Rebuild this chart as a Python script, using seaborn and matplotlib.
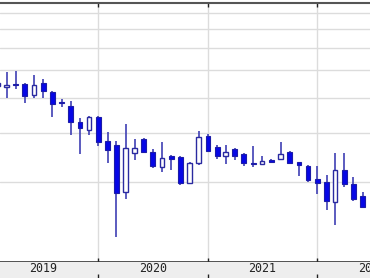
import matplotlib
matplotlib.use("Agg")
import matplotlib.pyplot as plt
import matplotlib.ticker as mticker
import numpy as np
import pandas as pd
import seaborn as sns

# ---- data (monthly candles, Feb 2019 - Jun 2022) ----
months = pd.date_range("2019-02-01", periods=41, freq="MS")
opens = [4.38, 4.37, 4.48, 4.47, 4.07, 4.52, 4.20, 3.85, 3.74, 3.28, 3.07, 3.40,
         2.81, 2.71, 1.85, 2.55, 2.85, 2.57, 2.26, 2.47, 2.45, 1.99, 2.34,
         2.93, 2.66, 2.48, 2.62, 2.51, 2.35, 2.32, 2.40, 2.41, 2.56, 2.36, 2.29,
         2.05, 2.01, 1.70, 2.22, 1.98, 1.79]
closes = [4.49, 4.44, 4.44, 4.06, 4.43, 4.22, 3.78, 3.83, 3.27, 3.11, 3.40, 2.79,
          2.60, 1.83, 2.64, 2.64, 2.57, 2.29, 2.43, 2.42, 1.99, 2.34, 2.90,
          2.59, 2.47, 2.57, 2.47, 2.34, 2.32, 2.38, 2.37, 2.51, 2.35, 2.30, 2.04,
          1.99, 1.72, 2.22, 1.98, 1.74, 1.64]
highs = [4.69, 4.94, 4.97, 4.49, 4.81, 4.65, 4.22, 3.95, 3.90, 3.38, 3.45, 3.45,
         3.02, 2.80, 3.21, 2.85, 2.88, 2.63, 2.79, 2.49, 2.47, 2.37, 3.04,
         2.97, 2.71, 2.71, 2.64, 2.54, 2.68, 2.47, 2.41, 2.77, 2.58, 2.36, 2.30,
         2.29, 2.12, 2.55, 2.55, 2.09, 1.85]
lows = [4.18, 3.97, 4.29, 3.82, 3.99, 3.99, 3.42, 3.71, 2.94, 2.52, 2.94, 2.68,
        2.34, 1.28, 1.74, 2.39, 2.55, 2.25, 2.18, 2.21, 1.95, 1.98, 2.30,
        2.57, 2.41, 2.32, 2.40, 2.29, 2.26, 2.30, 2.34, 2.40, 2.34, 2.11, 2.00,
        1.82, 1.59, 1.41, 1.93, 1.72, 1.64]
years = ["2019", "2020", "2021", "2022"]
year_starts = ["2019-01-01", "2020-01-01", "2021-01-01", "2022-01-01"]
grid_values = [2, 3, 4, 5, 6, 7, 8]

df = pd.DataFrame({"date": months, "open": opens, "high": highs,
                   "low": lows, "close": closes})
df["bottom"] = df[["open", "close"]].min(axis=1)
df["height"] = (df["close"] - df["open"]).abs()
up = df["close"] >= df["open"]

sns.set_style("white")
W, H = 370, 278
fig = plt.figure(figsize=(W / 100, H / 100), dpi=100)
ax = fig.add_axes([0, 16 / H, 1, 259.5 / H])
band = fig.add_axes([0, 0, 1, 16 / H], sharex=ax)

wick_c = "#4040b4"
ax.vlines(df["date"], df["low"], df["high"], color=wick_c, lw=1.2, zorder=2)
ax.bar(df.loc[~up, "date"], df.loc[~up, "height"], bottom=df.loc[~up, "bottom"],
       width=16, color="#0606e6", edgecolor="#1c1ca8", lw=0.8, zorder=3)
ax.bar(df.loc[up, "date"], df.loc[up, "height"], bottom=df.loc[up, "bottom"],
       width=15, color="white", edgecolor="#2a2aa0", lw=1.0, zorder=3)

ax.set_yscale("log")
ax.set_ylim(1.042, 8.70)
ax.set_yticks(grid_values)
ax.yaxis.set_minor_locator(mticker.NullLocator())
ax.yaxis.set_major_formatter(mticker.NullFormatter())
ax.tick_params(axis="y", length=0)

bounds = pd.to_datetime(year_starts)
ax.set_xticks(bounds)
ax.set_xlim(pd.Timestamp("2019-02-07"), pd.Timestamp("2022-06-26"))
ax.grid(True, color="#dcdcdc", lw=1)
ax.set_axisbelow(True)
ax.tick_params(axis="x", which="major", direction="in", length=3, width=1,
               color="#222222", top=True, bottom=True, labelbottom=False)
for s in ["left", "right"]:
    ax.spines[s].set_visible(False)
ax.spines["top"].set_color("#555555")
ax.spines["top"].set_linewidth(1.5)
ax.spines["bottom"].set_color("#333333")
ax.spines["bottom"].set_linewidth(1.2)

band.set_facecolor("#eeeeee")
band.set_yticks([])
band.tick_params(axis="x", which="major", direction="in", length=3, width=1,
                 color="#222222", top=False, bottom=True, labelbottom=False)
for s in band.spines.values():
    s.set_visible(False)
for start, lab in zip(bounds, years):
    mid = start + pd.Timedelta(days=182)
    band.text(mid, 0.58, lab, transform=band.get_xaxis_transform(),
              ha="center", va="center", fontsize=8.4,
              family="DejaVu Sans Mono", color="#222222")

fig.savefig("out.png", dpi=100)
